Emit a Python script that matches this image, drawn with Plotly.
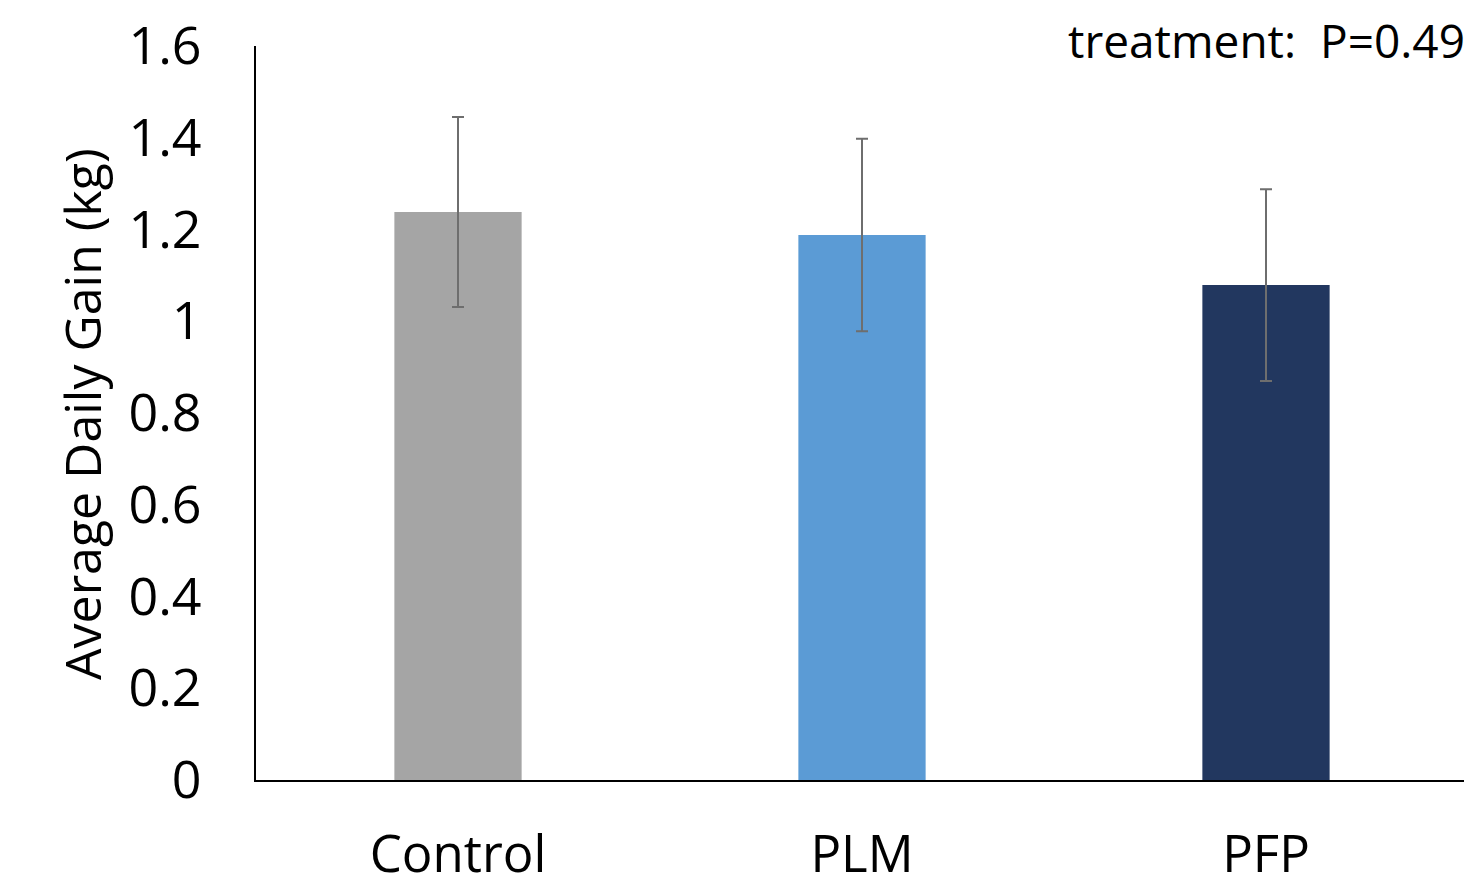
import plotly.graph_objects as go

categories = ["Control", "PLM", "PFP"]
adg = [1.238, 1.188, 1.079]
se = [0.207, 0.210, 0.209]
colors = ["#A5A5A5", "#5B9BD5", "#22375F"]
y_ticks = [0, 0.2, 0.4, 0.6, 0.8, 1, 1.2, 1.4, 1.6]
y_tick_labels = ["0", "0.2", "0.4", "0.6", "0.8", "1", "1.2", "1.4", "1.6"]

FONT = "Open Sans"

# page body has an 8px margin; figure is sized so that it ends at the window edge
W, H = 1464, 882
L, R, T, B = 248, 4, 38, 110
plot_w = W - L - R
plot_h = H - T - B

fig = go.Figure(go.Bar(
    x=categories, y=adg,
    marker=dict(color=colors, line=dict(width=0)),
    width=0.315,
    error_y=dict(type="data", array=se, visible=True, color="#6E6E6E", thickness=2, width=6),
))

fig.update_layout(
    width=W, height=H,
    margin=dict(l=L, r=R, t=T, b=B),
    paper_bgcolor="white", plot_bgcolor="white",
    showlegend=False,
    font=dict(family=FONT, color="black"),
    xaxis=dict(
        showline=True, linecolor="black", linewidth=2, showgrid=False,
        ticks="", tickfont=dict(size=51, family=FONT), ticklabelstandoff=29,
        range=[-0.5, 2.5], automargin=False,
    ),
    yaxis=dict(
        range=[0, 1.6], tickvals=y_ticks, ticktext=y_tick_labels,
        showline=True, linecolor="black", linewidth=2, showgrid=False,
        zeroline=False, ticks="", tickfont=dict(size=52, family=FONT),
        ticklabelstandoff=42, automargin=False,
    ),
    annotations=[
        dict(
            text="treatment:  P=0.49", xref="paper", yref="paper",
            x=(1058 - L) / plot_w, y=(plot_h + T - 32) / plot_h,
            xanchor="left", yanchor="middle", showarrow=False,
            font=dict(size=46, family=FONT, color="black"),
        ),
        dict(
            text="Average Daily Gain (kg)", xref="paper", yref="paper",
            x=(74 - L) / plot_w, y=(772 - 406) / plot_h,
            xanchor="center", yanchor="middle", textangle=-90, showarrow=False,
            font=dict(size=50, family=FONT, color="black"),
        ),
    ],
)

fig.write_html("out.html")
